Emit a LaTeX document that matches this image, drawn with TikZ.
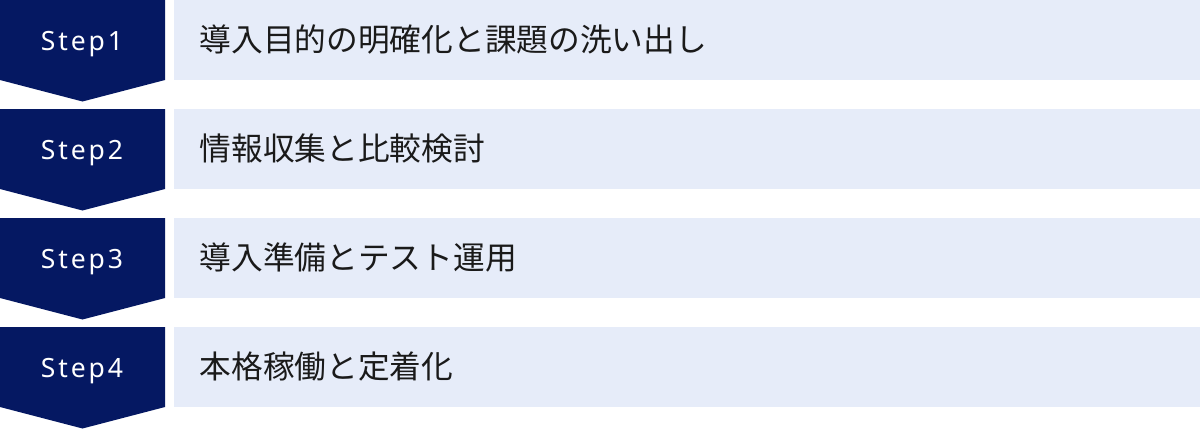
\documentclass[tikz,border=0pt]{standalone}
\usepackage{fontspec}
\setmainfont{Noto Sans}
\newfontfamily\jp{Noto Sans CJK JP}
\newfontfamily\stepfont[LetterSpace=11]{Noto Sans}
\definecolor{navy}{RGB}{5,24,98}
\definecolor{lightbg}{RGB}{230,236,249}
\definecolor{txt}{RGB}{26,26,26}
\tikzset{
  stepshape/.style={fill=navy, draw=none},
  barshape/.style={fill=lightbg, draw=none},
  steplabel/.style={anchor=base, inner sep=0pt, text=white, font=\stepfont\fontsize{26.5}{30}\selectfont},
  barlabel/.style={anchor=base west, inner sep=0pt, text=txt, font=\jp\fontsize{31.7}{38}\selectfont}
}
\begin{document}
\begin{tikzpicture}[x=1pt,y=-1pt]
\useasboundingbox (0,0) rectangle (1200,429);
\foreach \i/\lab in {0/導入目的の明確化と課題の洗い出し,1/情報収集と比較検討,2/導入準備とテスト運用,3/本格稼働と定着化}{
  \pgfmathsetmacro{\yy}{109*\i}
  \pgfmathtruncatemacro{\n}{\i+1}
  \fill[stepshape] (0,\yy) -- (165,\yy) -- (165,\yy+80) -- (82.5,\yy+101.5) -- (0,\yy+80) -- cycle;
  \fill[barshape] (174,\yy) rectangle (1200,\yy+80);
  \node[steplabel] (step\n) at (82,\yy+50) {Step\n};
  \node[barlabel] (bar\n) at (199.5,\yy+51) {\lab};
}
\end{tikzpicture}
\end{document}
